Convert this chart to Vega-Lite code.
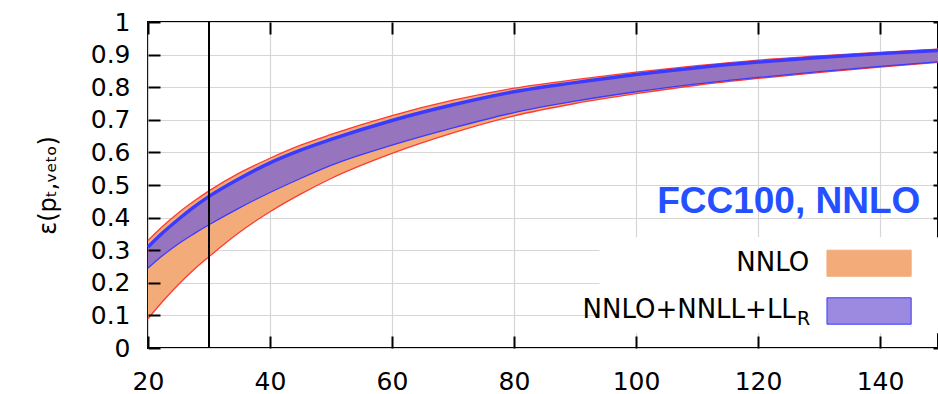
{
  "$schema": "https://vega.github.io/schema/vega-lite/v6.json",
  "width": 790,
  "height": 326,
  "autosize": {"type": "none"},
  "padding": {"left": 148, "top": 22, "right": 0, "bottom": 46},
  "background": "white",
  "config": {
    "view": {"stroke": "black", "strokeWidth": 2},
    "axis": {
      "domain": false,
      "gridColor": "#d6d6d6",
      "gridWidth": 1.2,
      "ticks": true,
      "tickColor": "black",
      "tickWidth": 2,
      "labelFont": "DejaVu Sans",
      "labelFontSize": 25,
      "labelColor": "black",
      "labelFlush": false,
      "labelOverlap": false,
      "titleFont": "DejaVu Sans",
      "titleFontSize": 24,
      "titleFontWeight": "normal",
      "titleColor": "black"
    }
  },
  "datasets": {
    "bands": [
      {"x": 20, "nlo": 0.090, "nhi": 0.330, "rlo": 0.245, "rhi": 0.310},
      {"x": 22.5, "nlo": 0.145, "nhi": 0.375, "rlo": 0.285, "rhi": 0.355},
      {"x": 25, "nlo": 0.195, "nhi": 0.415, "rlo": 0.320, "rhi": 0.395},
      {"x": 27.5, "nlo": 0.240, "nhi": 0.450, "rlo": 0.350, "rhi": 0.432},
      {"x": 30, "nlo": 0.280, "nhi": 0.482, "rlo": 0.378, "rhi": 0.465},
      {"x": 35, "nlo": 0.355, "nhi": 0.537, "rlo": 0.430, "rhi": 0.520},
      {"x": 40, "nlo": 0.418, "nhi": 0.582, "rlo": 0.477, "rhi": 0.568},
      {"x": 45, "nlo": 0.472, "nhi": 0.622, "rlo": 0.520, "rhi": 0.607},
      {"x": 50, "nlo": 0.520, "nhi": 0.655, "rlo": 0.560, "rhi": 0.640},
      {"x": 60, "nlo": 0.597, "nhi": 0.713, "rlo": 0.622, "rhi": 0.698},
      {"x": 70, "nlo": 0.660, "nhi": 0.760, "rlo": 0.675, "rhi": 0.746},
      {"x": 80, "nlo": 0.712, "nhi": 0.797, "rlo": 0.722, "rhi": 0.786},
      {"x": 90, "nlo": 0.750, "nhi": 0.823, "rlo": 0.757, "rhi": 0.814},
      {"x": 100, "nlo": 0.780, "nhi": 0.846, "rlo": 0.786, "rhi": 0.839},
      {"x": 110, "nlo": 0.806, "nhi": 0.866, "rlo": 0.810, "rhi": 0.860},
      {"x": 120, "nlo": 0.827, "nhi": 0.883, "rlo": 0.830, "rhi": 0.877},
      {"x": 130, "nlo": 0.845, "nhi": 0.896, "rlo": 0.848, "rhi": 0.891},
      {"x": 140, "nlo": 0.862, "nhi": 0.907, "rlo": 0.864, "rhi": 0.903},
      {"x": 149.5, "nlo": 0.876, "nhi": 0.917, "rlo": 0.878, "rhi": 0.913}
    ],
    "box": [{"x": 94, "x2": 149.5, "y": 0.045, "y2": 0.34}],
    "swatches": [
      {"name": "NNLO", "x": 131.3, "x2": 145.1, "y": 0.22, "y2": 0.30},
      {"name": "NNLO+NNLL+LL", "x": 131.3, "x2": 145.1, "y": 0.073, "y2": 0.154}
    ],
    "labels": [
      {"name": "NNLO", "x": 128.4, "y": 0.26},
      {"name": "NNLO+NNLL+LL", "x": 126.2, "y": 0.116}
    ],
    "sub": [{"t": "R", "x": 126.4, "y": 0.09}],
    "title": [{"t": "FCC100, NNLO", "x": 146.6, "y": 0.413}],
    "vline": [{"x": 30}]
  },
  "layer": [
    {
      "data": {"name": "box"},
      "mark": {"type": "rect", "fill": "white", "stroke": null},
      "encoding": {
        "x": {"field": "x", "type": "quantitative",
              "scale": {"domain": [20, 149.5], "nice": false, "zero": false},
              "axis": {"values": [20, 40, 60, 80, 100, 120, 140], "title": null, "grid": false, "orient": "bottom", "offset": -12, "tickSize": 12, "labelPadding": 21, "zindex": 1}},
        "x2": {"field": "x2"},
        "y": {"field": "y", "type": "quantitative",
              "scale": {"domain": [0, 1], "nice": false},
              "axis": {"values": [0, 0.1, 0.2, 0.3, 0.4, 0.5, 0.6, 0.7, 0.8, 0.9, 1], "format": ".1~f", "title": "ε(pₜ,ᵥₑₜₒ)", "grid": false, "orient": "left", "offset": -12, "tickSize": 12, "labelPadding": 18, "titlePadding": 30, "zindex": 1}},
        "y2": {"field": "y2"}
      }
    },
    {
      "data": {"name": "bands"},
      "mark": {"type": "area", "fill": "#f3ab7a", "interpolate": "monotone"},
      "encoding": {
        "x": {"field": "x", "type": "quantitative", "axis": {"orient": "top", "labels": false, "grid": true, "offset": -12, "tickSize": 12, "values": [20, 40, 60, 80, 100, 120, 140], "title": null, "zindex": 0}},
        "y": {"field": "nlo", "type": "quantitative", "axis": {"orient": "right", "labels": false, "grid": true, "offset": -5, "tickSize": 5, "values": [0, 0.1, 0.2, 0.3, 0.4, 0.5, 0.6, 0.7, 0.8, 0.9, 1], "title": null, "zindex": 0}},
        "y2": {"field": "nhi"}
      }
    },
    {
      "data": {"name": "bands"},
      "mark": {"type": "line", "stroke": "#ff3b2f", "strokeWidth": 1.3, "interpolate": "monotone"},
      "encoding": {
        "x": {"field": "x", "type": "quantitative", "axis": null},
        "y": {"field": "nlo", "type": "quantitative", "axis": null}
      }
    },
    {
      "data": {"name": "bands"},
      "mark": {"type": "line", "stroke": "#ff3b2f", "strokeWidth": 1.3, "interpolate": "monotone"},
      "encoding": {
        "x": {"field": "x", "type": "quantitative", "axis": null},
        "y": {"field": "nhi", "type": "quantitative", "axis": null}
      }
    },
    {
      "data": {"name": "bands"},
      "mark": {"type": "area", "fill": "#4a48f5", "fillOpacity": 0.55, "interpolate": "monotone"},
      "encoding": {
        "x": {"field": "x", "type": "quantitative", "axis": null},
        "y": {"field": "rlo", "type": "quantitative", "axis": null},
        "y2": {"field": "rhi"}
      }
    },
    {
      "data": {"name": "bands"},
      "mark": {"type": "line", "stroke": "#3b3bff", "strokeWidth": 1.3, "interpolate": "monotone"},
      "encoding": {
        "x": {"field": "x", "type": "quantitative", "axis": null},
        "y": {"field": "rlo", "type": "quantitative", "axis": null}
      }
    },
    {
      "data": {"name": "bands"},
      "mark": {"type": "line", "stroke": "#3b3bff", "strokeWidth": 3.5, "interpolate": "monotone"},
      "encoding": {
        "x": {"field": "x", "type": "quantitative", "axis": null},
        "y": {"field": "rhi", "type": "quantitative", "axis": null}
      }
    },
    {
      "data": {"name": "vline"},
      "mark": {"type": "rule", "color": "black", "strokeWidth": 2},
      "encoding": {
        "x": {"field": "x", "type": "quantitative", "axis": null}
      }
    },
    {
      "data": {"name": "swatches"},
      "mark": {"type": "rect"},
      "encoding": {
        "x": {"field": "x", "type": "quantitative", "axis": null},
        "x2": {"field": "x2"},
        "y": {"field": "y", "type": "quantitative", "axis": null},
        "y2": {"field": "y2"},
        "fill": {"field": "name", "type": "nominal", "scale": {"domain": ["NNLO", "NNLO+NNLL+LL"], "range": ["#f3ab7a", "#9c8ae0"]}, "legend": null},
        "stroke": {"field": "name", "type": "nominal", "scale": {"domain": ["NNLO", "NNLO+NNLL+LL"], "range": ["#f3ab7a", "#3b3bff"]}, "legend": null}
      }
    },
    {
      "data": {"name": "labels"},
      "mark": {"type": "text", "align": "right", "baseline": "middle", "font": "DejaVu Sans", "fontSize": 26, "color": "black"},
      "encoding": {
        "x": {"field": "x", "type": "quantitative", "axis": null},
        "y": {"field": "y", "type": "quantitative", "axis": null},
        "text": {"field": "name"}
      }
    },
    {
      "data": {"name": "sub"},
      "mark": {"type": "text", "align": "left", "baseline": "middle", "font": "DejaVu Sans", "fontSize": 19, "color": "black"},
      "encoding": {
        "x": {"field": "x", "type": "quantitative", "axis": null},
        "y": {"field": "y", "type": "quantitative", "axis": null},
        "text": {"field": "t"}
      }
    },
    {
      "data": {"name": "title"},
      "mark": {"type": "text", "align": "right", "baseline": "alphabetic", "font": "Liberation Sans", "fontWeight": "bold", "fontSize": 37, "color": "#2450ff"},
      "encoding": {
        "x": {"field": "x", "type": "quantitative", "axis": null},
        "y": {"field": "y", "type": "quantitative", "axis": null},
        "text": {"field": "t"}
      }
    }
  ]
}
